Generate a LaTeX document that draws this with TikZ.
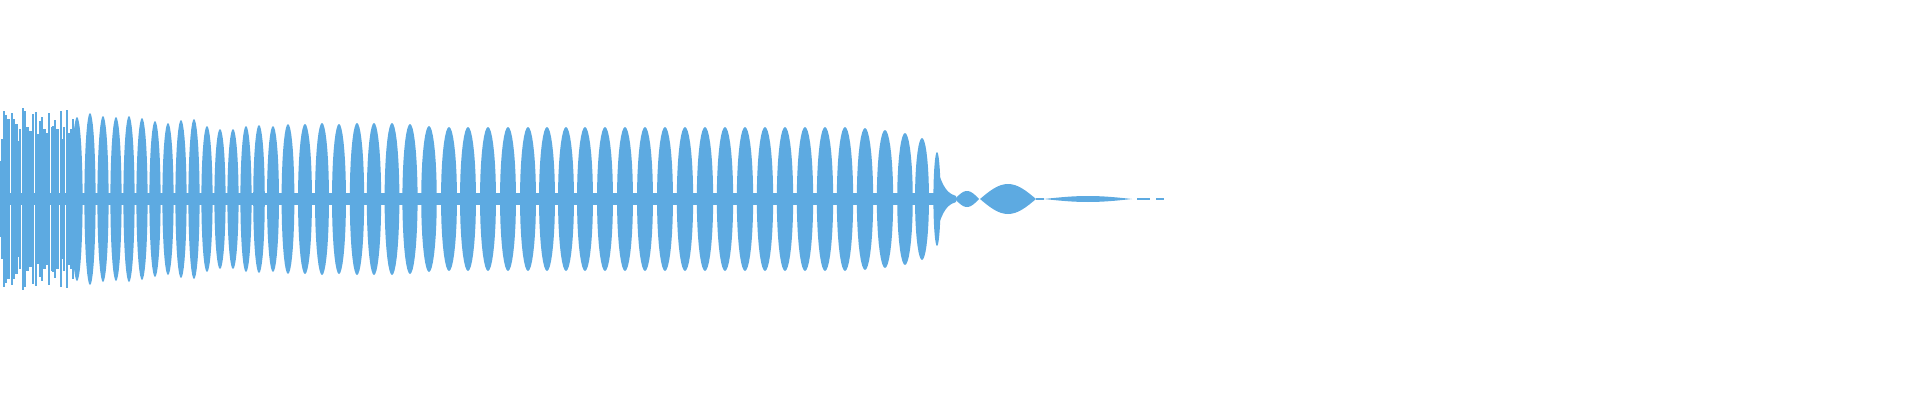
\documentclass[tikz,border=0pt]{standalone}
\usetikzlibrary{positioning}
\tikzset{
    every node/.style={inner sep=0pt}
}
\begin{document}
\begin{tikzpicture}[x=1pt,y=1pt]
  % colour of the trace
  \definecolor{waveBlue}{RGB}{93,170,225}

  \tikzset{
    wave/.style={fill=waveBlue, draw=none}
  }

  \useasboundingbox (0,0) rectangle (1920,400);

  \begin{scope}[yshift=201pt]
    % centre band
    \fill[wave] (0,-6) rectangle (942,6);

    % dense start
    \foreach \bx/\ba in {1/38,4/88,6/84,9/62,12/86,14/80,17/45,20/70,23/91,
                         25/88,29/60,33/85,36/87,40/78,42/82,46/50,
                         49/86,52/72,55/79,58/66,61/88,64/72,67/89,70/56,73/80}
      \fill[wave] (\bx-0.8,-\ba) rectangle (\bx+0.8,\ba);
    \foreach \bx/\ba in {3/60,8/80,16/75,19/58,27/72,31/68,38/65,44/70,48/66,
                         54/73,57/70,63/60,69/66,72/70}
      \fill[wave] (\bx-2,-\ba) rectangle (\bx+2,\ba);

    % lobes
    \foreach \cx/\w/\h in {77/5.6/82,90/5.6/86,103/5.6/83,116/5.6/82,129/5.6/83,
                           142/5.6/81,155/5.6/78,168/5.6/76,181/5.6/79,194/5.6/80,
                           207/5.6/73,220/5.6/70,233/5.6/70,246/5.6/73,259/5.8/74,
                           273/6/73,288/6.4/75,305/7/75,322/7/76,339/7/75,
                           357/7.2/76,374/7.2/76,392/7.4/76,410/7.6/75,429/7.8/73,
                           449/8/72,468/8/72,488/8/72,508/8/72,528/8/72,
                           547/8/72,566/8/72,585/8/72,605/8/72,625/8/72,
                           645/8/72,665/8/72,685/8.2/72,705/8.2/72,725/8.2/72,
                           745/8.2/72,765/8.2/72,785/8.2/72,805/8.2/72,825/8.2/72,845/8.2/72,
                           865/8.2/71,885/8.2/69,905/7.8/66,922/7/61,937/3.6/47}
      \fill[wave] plot[domain=-90:90,samples=19] ({\cx+\w*sin(\x)},{\h*cos(\x)})
        -- plot[domain=90:-90,samples=19] ({\cx+\w*sin(\x)},{-\h*cos(\x)}) -- cycle;

    % decaying tail
    \fill[wave] (940,22) .. controls (945,8) and (950,5) .. (956,3)
      -- (956,-3) .. controls (950,-5) and (945,-8) .. (940,-22) -- cycle;
    \foreach \cx/\w/\h in {967/12/8,1008/28/15,1088/44/3}
      \fill[wave] plot[domain=-90:90,samples=17] ({\cx+\w*\x/90},{\h*cos(\x)})
        -- plot[domain=90:-90,samples=17] ({\cx+\w*\x/90},{-\h*cos(\x)}) -- cycle;
    \fill[wave] (1036,-1) rectangle (1044,1);
    \fill[wave] (1137,-1) rectangle (1150,1);
    \fill[wave] (1156,-1) rectangle (1164,1);
  \end{scope}
\end{tikzpicture}
\end{document}
